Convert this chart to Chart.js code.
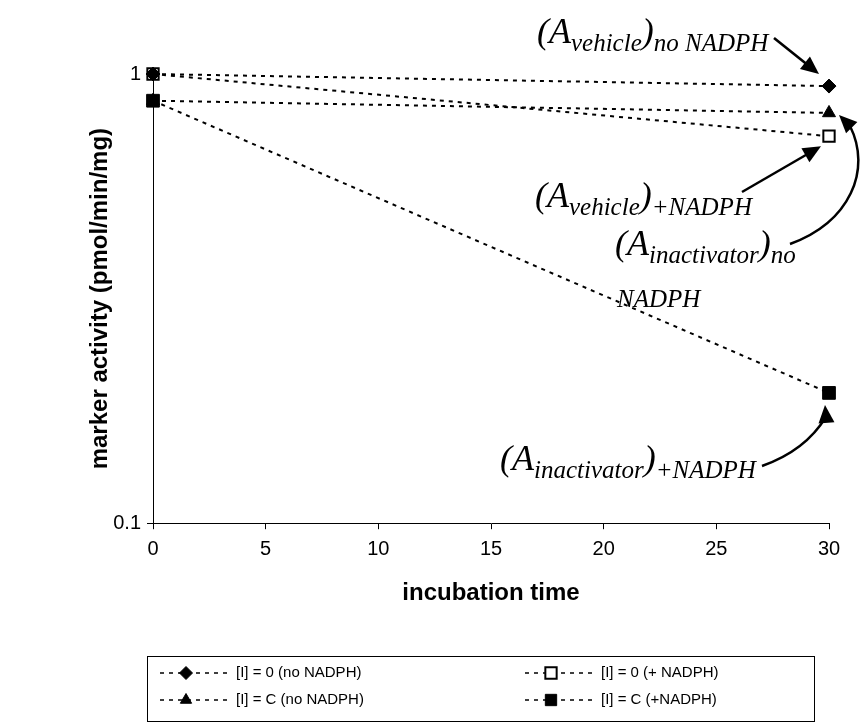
<!DOCTYPE html>
<html lang="en">
<head>
  <meta charset="UTF-8" />
  <title>marker activity vs incubation time</title>
  <script src="https://cdn.jsdelivr.net/npm/chart.js"></script>
  <style>
    body { margin: 0; background: #fff; }
  </style>
</head>
<body>
  <canvas id="chart" width="867" height="726"></canvas>

  <script>
    // data
    let times = [0, 30];
    let noInhNoNadph = [1.0, 0.94];     // [I] = 0 (no NADPH)
    let noInhNadph = [1.0, 0.727];      // [I] = 0 (+ NADPH)
    let inhNoNadph = [0.872, 0.819];    // [I] = C (no NADPH)
    let inhNadph = [0.872, 0.195];      // [I] = C (+NADPH)
    let seriesLabels = ['[I] = 0 (no NADPH)', '[I] = 0 (+ NADPH)', '[I] = C (no NADPH)', '[I] = C (+NADPH)'];
    let yTickValues = [0.1, 1];
    let xTitle = 'incubation time';
    let yTitle = 'marker activity (pmol/min/mg)';

    function pts(ys) {
      return times.map((t, i) => ({ x: t, y: ys[i] }));
    }

    function series(label, ys, style, fill, radius) {
      return {
        label: label,
        data: pts(ys),
        borderColor: '#000',
        borderWidth: 2,
        borderDash: [4, 5],
        pointStyle: style,
        pointRadius: radius,
        pointBackgroundColor: fill,
        pointBorderColor: '#000',
        pointBorderWidth: fill === '#fff' ? 2 : 1,
        clip: false,
        tension: 0
      };
    }

    // marker for the legend, same shapes as chart.js uses
    function marker(ctx, style, x, y, r, fill, lw) {
      ctx.save();
      ctx.setLineDash([]);
      ctx.beginPath();
      if (style === 'rect') {
        let s = r * Math.SQRT1_2;
        ctx.rect(x - s, y - s, 2 * s, 2 * s);
      } else if (style === 'rectRot') {
        ctx.moveTo(x, y - r); ctx.lineTo(x + r, y); ctx.lineTo(x, y + r); ctx.lineTo(x - r, y);
        ctx.closePath();
      } else if (style === 'triangle') {
        for (let k = 0; k < 3; k++) {
          let a = -Math.PI / 2 + k * 2 * Math.PI / 3;
          if (k === 0) ctx.moveTo(x + r * Math.cos(a), y + r * Math.sin(a));
          else ctx.lineTo(x + r * Math.cos(a), y + r * Math.sin(a));
        }
        ctx.closePath();
      }
      ctx.fillStyle = fill;
      ctx.fill();
      ctx.lineWidth = lw;
      ctx.strokeStyle = '#000';
      ctx.stroke();
      ctx.restore();
    }

    const boxLegend = {
      id: 'boxLegend',
      afterDraw(chart) {
        const ctx = chart.ctx;
        ctx.save();
        ctx.strokeStyle = '#000';
        ctx.lineWidth = 1;
        ctx.strokeRect(147.5, 656.5, 667, 65);
        ctx.font = '15px Arial, "Liberation Sans", sans-serif';
        ctx.fillStyle = '#000';
        ctx.textBaseline = 'middle';
        chart.data.datasets.forEach((ds, i) => {
          let col = i % 2, row = Math.floor(i / 2);
          let x0 = col === 0 ? 160 : 525;
          let y = row === 0 ? 673 : 700;
          ctx.beginPath();
          ctx.setLineDash([4, 5]);
          ctx.lineWidth = 1.5;
          ctx.moveTo(x0, y);
          ctx.lineTo(x0 + 70, y);
          ctx.stroke();
          marker(ctx, ds.pointStyle, x0 + 26, y, ds.pointStyle === 'rect' ? 8 : 6.5, ds.pointBackgroundColor, ds.pointBorderWidth);
          ctx.fillText(ds.label, x0 + 76, y);
        });
        ctx.restore();
      }
    };

    // text like (A_sub)_sub in italic serif
    function subText(ctx, x, y, parts) {
      let cx = x;
      parts.forEach(p => {
        ctx.font = 'italic ' + p.size + 'px "Liberation Serif", "Times New Roman", serif';
        ctx.fillText(p.t, cx, y + (p.dy || 0));
        cx += ctx.measureText(p.t).width;
      });
      return cx;
    }

    function arrowHead(ctx, x, y, ang) {
      let len = 18, w = 8;
      ctx.beginPath();
      ctx.moveTo(x, y);
      ctx.lineTo(x - len * Math.cos(ang) + w * Math.sin(ang), y - len * Math.sin(ang) - w * Math.cos(ang));
      ctx.lineTo(x - len * Math.cos(ang) - w * Math.sin(ang), y - len * Math.sin(ang) + w * Math.cos(ang));
      ctx.closePath();
      ctx.fill();
    }

    const notes = {
      id: 'notes',
      afterDraw(chart) {
        const ctx = chart.ctx;
        const xs = chart.scales.x, ys = chart.scales.y;
        ctx.save();
        ctx.fillStyle = '#000';
        ctx.strokeStyle = '#000';
        ctx.textBaseline = 'alphabetic';
        let big = 36, small = 25, d = 8;

        subText(ctx, 537, 43, [{ t: '(A', size: big }, { t: 'vehicle', size: small, dy: d }, { t: ')', size: big }, { t: 'no NADPH', size: small, dy: d }]);
        subText(ctx, 535, 207, [{ t: '(A', size: big }, { t: 'vehicle', size: small, dy: d }, { t: ')', size: big }, { t: '+NADPH', size: small, dy: d }]);
        subText(ctx, 615, 255, [{ t: '(A', size: big }, { t: 'inactivator', size: small, dy: d }, { t: ')', size: big }, { t: 'no', size: small, dy: d }]);
        subText(ctx, 617, 307, [{ t: 'NADPH', size: small }]);
        subText(ctx, 500, 470, [{ t: '(A', size: big }, { t: 'inactivator', size: small, dy: d }, { t: ')', size: big }, { t: '+NADPH', size: small, dy: d }]);

        ctx.lineWidth = 2.5;
        ctx.setLineDash([]);
        // targets are the points at t = 30
        let tx = xs.getPixelForValue(times[1]);
        let p1 = { x: tx - 10, y: ys.getPixelForValue(noInhNoNadph[1]) - 12 };
        let p2 = { x: tx - 8, y: ys.getPixelForValue(noInhNadph[1]) + 10 };
        let p3 = { x: tx + 10, y: ys.getPixelForValue(inhNoNadph[1]) + 2 };
        let p4 = { x: tx - 4, y: ys.getPixelForValue(inhNadph[1]) + 12 };

        // straight arrows
        [[774, 38, p1], [742, 192, p2]].forEach(a => {
          let ang = Math.atan2(a[2].y - a[1], a[2].x - a[0]);
          ctx.beginPath();
          ctx.moveTo(a[0], a[1]);
          ctx.lineTo(a[2].x - 12 * Math.cos(ang), a[2].y - 12 * Math.sin(ang));
          ctx.stroke();
          arrowHead(ctx, a[2].x, a[2].y, ang);
        });

        // curved arrows
        ctx.beginPath();
        ctx.moveTo(790, 244);
        ctx.bezierCurveTo(850, 222, 872, 170, p3.x + 11, p3.y + 11);
        ctx.stroke();
        arrowHead(ctx, p3.x, p3.y, Math.atan2(-11, -11));

        ctx.beginPath();
        ctx.moveTo(762, 466);
        ctx.bezierCurveTo(802, 452, 818, 430, p4.x + 1, p4.y + 12);
        ctx.stroke();
        arrowHead(ctx, p4.x, p4.y, Math.atan2(-12, -1));
        ctx.restore();
      }
    };

    const ctx = document.getElementById('chart').getContext('2d');
    const chart = new Chart(ctx, {
      type: 'line',
      data: {
        datasets: [
          series(seriesLabels[0], noInhNoNadph, 'rectRot', '#000', 7),
          series(seriesLabels[1], noInhNadph, 'rect', '#fff', 8),
          series(seriesLabels[2], inhNoNadph, 'triangle', '#000', 7.5),
          series(seriesLabels[3], inhNadph, 'rect', '#000', 9)
        ]
      },
      options: {
        responsive: false,
        animation: false,
        layout: { padding: { left: 82, top: 74, right: 38, bottom: 118 } },
        plugins: {
          legend: { display: false },
          tooltip: { enabled: false }
        },
        scales: {
          x: {
            type: 'linear',
            min: 0,
            max: 30,
            ticks: { stepSize: 5, color: '#000', padding: 8, font: { family: 'Arial, "Liberation Sans"', size: 20 } },
            grid: { drawOnChartArea: false, tickLength: 6, color: '#000' },
            border: { color: '#000', width: 1 },
            title: { display: true, text: xTitle, color: '#000', padding: { top: 10, bottom: 0 }, font: { family: 'Arial, "Liberation Sans"', size: 24, weight: 'bold' } }
          },
          y: {
            type: 'logarithmic',
            min: 0.1,
            max: 1,
            afterBuildTicks: s => { s.ticks = yTickValues.map(v => ({ value: v })); },
            afterFit: s => { s.width = 71; },
            ticks: { color: '#000', padding: 6, callback: v => String(v), font: { family: 'Arial, "Liberation Sans"', size: 20 } },
            grid: { drawOnChartArea: false, tickLength: 6, color: '#000' },
            border: { color: '#000', width: 1 },
            title: { display: true, text: yTitle, color: '#000', font: { family: 'Arial, "Liberation Sans"', size: 24, weight: 'bold' } }
          }
        }
      },
      plugins: [boxLegend, notes]
    });
  </script>
</body>
</html>
